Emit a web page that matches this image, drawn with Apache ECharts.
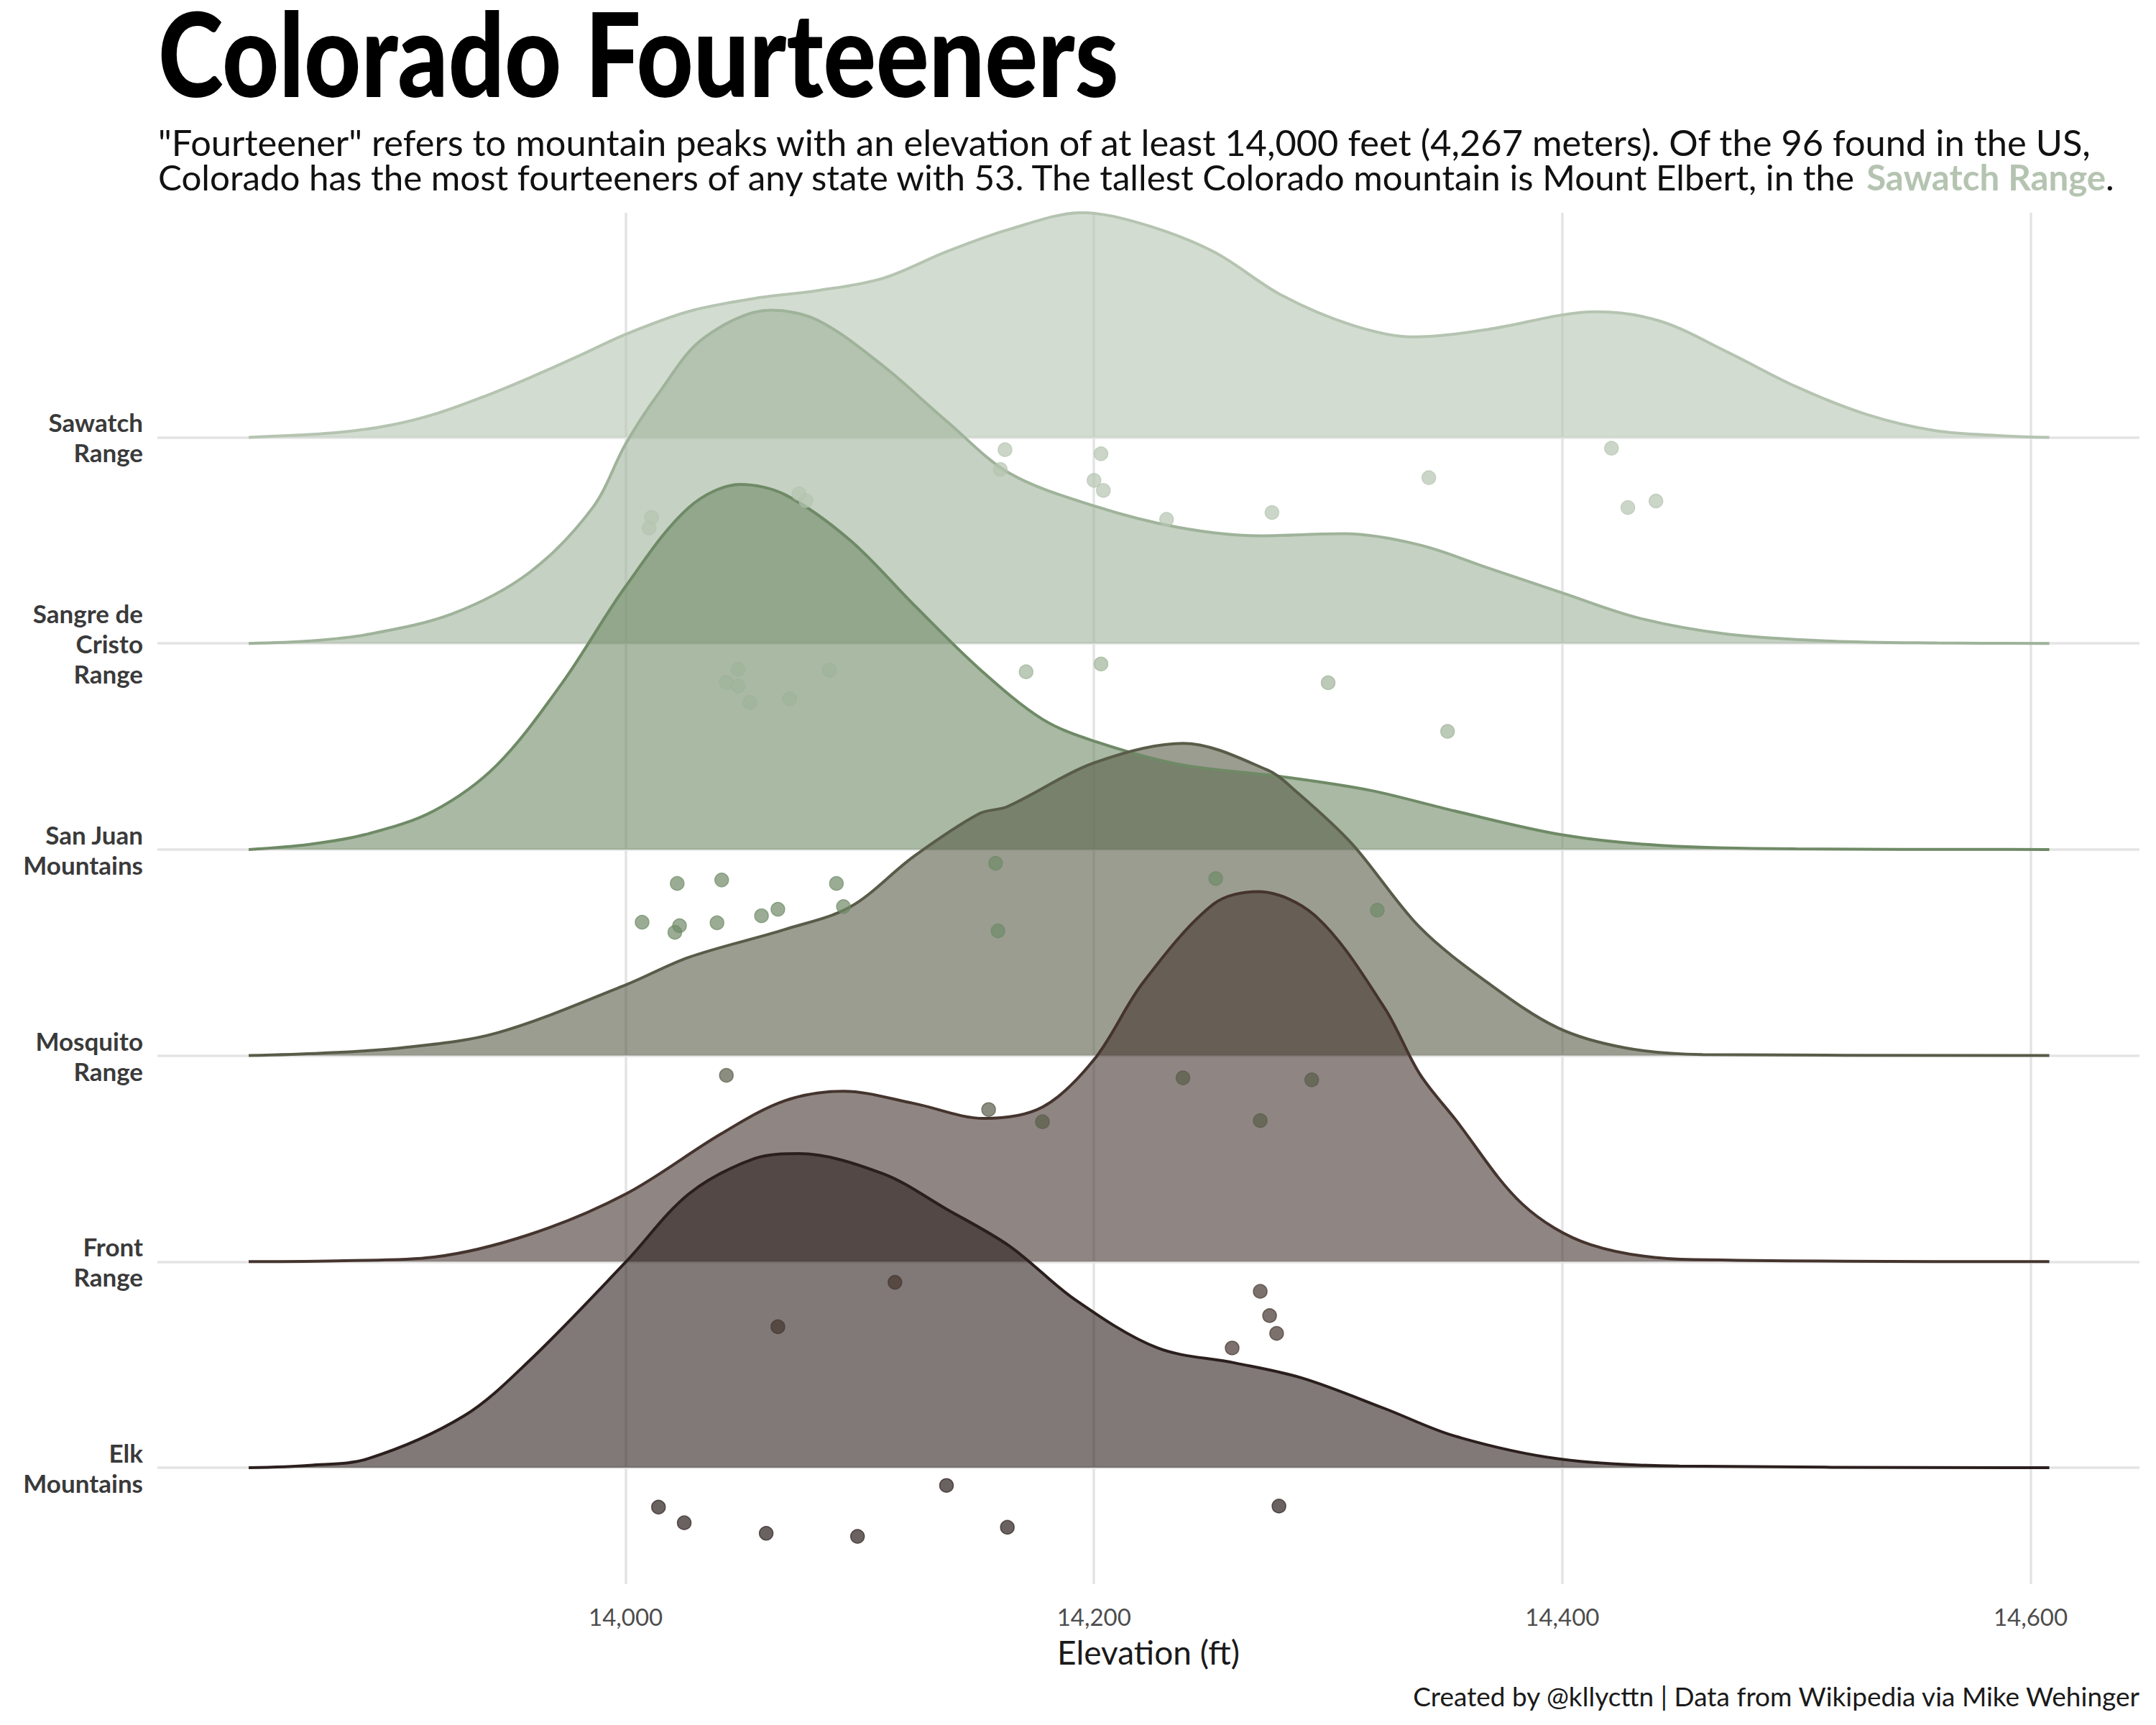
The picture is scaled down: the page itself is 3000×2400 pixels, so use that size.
<!DOCTYPE html>
<html>
<head>
<meta charset="utf-8">
<script src="https://cdn.jsdelivr.net/npm/echarts@6/dist/echarts.min.js"></script>
<style>
html,body{margin:0;padding:0;background:#ffffff;}
#c{width:3000px;height:2400px;}
</style>
</head>
<body>
<div id="c"></div>
<script>
// ---------------- DATA ----------------
const rangeNames = ['Sawatch Range', 'Sangre de Cristo Range', 'San Juan Mountains', 'Mosquito Range', 'Front Range', 'Elk Mountains'];
const rangeLabels = ['Sawatch\nRange', 'Sangre de\nCristo\nRange', 'San Juan\nMountains', 'Mosquito\nRange', 'Front\nRange', 'Elk\nMountains'];
const xTickValues = [14000, 14200, 14400, 14600];

// density ridges: elevation (ft) and ridge height (in row units)
const sawatchDensX = [13839,13876,13900,13920,13940,13959,13980,14000,14027,14055,14082,14110,14137,14164,14195,14221,14251,14280,14310,14336,14368,14400,14415,14442,14471,14500,14530,14559,14589,14608];
const sawatchDensY = [0,0.022,0.06,0.118,0.2,0.289,0.395,0.5,0.611,0.674,0.712,0.772,0.901,1.01,1.09,1.034,0.901,0.69,0.545,0.487,0.523,0.594,0.609,0.563,0.411,0.245,0.111,0.033,0.007,0];

const sangreDensX = [13839,13865,13890,13926,13959,13986,14000,14014,14033,14062,14082,14110,14137,14164,14200,14236,14271,14307,14339,14368,14400,14433,14471,14515,14560,14608];
const sangreDensY = [0,0.012,0.044,0.144,0.345,0.66,0.968,1.212,1.479,1.617,1.568,1.346,1.079,0.825,0.667,0.563,0.522,0.532,0.478,0.367,0.245,0.122,0.044,0.011,0.002,0];

const sanJuanDensX = [13839,13865,13890,13918,13945,13973,14000,14027,14049,14068,14096,14123,14151,14178,14200,14236,14280,14318,14354,14400,14442,14500,14608];
const sanJuanDensY = [0,0.025,0.076,0.187,0.41,0.81,1.277,1.66,1.771,1.722,1.499,1.188,0.877,0.632,0.526,0.414,0.354,0.287,0.187,0.071,0.02,0.003,0];

const mosquitoDensX = [13839,13870,13904,13945,14000,14027,14068,14096,14123,14151,14163,14200,14238,14274,14286,14310,14339,14368,14398,14427,14460,14608];
const mosquitoDensY = [0,0.012,0.037,0.110,0.343,0.477,0.612,0.722,0.966,1.174,1.208,1.42,1.515,1.386,1.285,1.03,0.624,0.355,0.135,0.037,0.005,0];

const frontDensX = [13839,13880,13918,13959,14000,14041,14068,14093,14123,14153,14178,14200,14221,14251,14270,14295,14324,14339,14354,14383,14412,14456,14608];
const frontDensY = [0,0.005,0.022,0.132,0.328,0.622,0.781,0.827,0.768,0.695,0.75,0.98,1.355,1.735,1.796,1.673,1.233,0.913,0.695,0.279,0.083,0.01,0];

const elkDensX = [13839,13865,13890,13931,13959,14000,14027,14055,14074,14110,14137,14164,14192,14227,14260,14289,14324,14354,14398,14450,14608];
const elkDensY = [0,0.012,0.044,0.252,0.521,0.998,1.329,1.5,1.524,1.426,1.255,1.075,0.815,0.582,0.509,0.435,0.288,0.154,0.044,0.008,0];

// individual peaks (ft) and their vertical jitter below the ridge baseline (row units)
const sawatchPeaks  = [14010,14011,14074,14077,14160,14162,14200,14203,14204,14231,14276,14343,14421,14428,14440];
const sawatchJitter = [-0.44,-0.389,-0.274,-0.307,-0.156,-0.06,-0.209,-0.08,-0.258,-0.398,-0.365,-0.196,-0.053,-0.341,-0.309];

const sangrePeaks  = [14043,14048,14048,14053,14070,14087,14171,14203,14300,14351];
const sangreJitter = [-0.189,-0.127,-0.207,-0.287,-0.269,-0.131,-0.138,-0.1,-0.191,-0.427];

const sanJuanPeaks  = [14007,14021,14022,14023,14039,14041,14058,14065,14090,14093,14158,14159,14252,14321];
const sanJuanJitter = [-0.353,-0.402,-0.165,-0.37,-0.356,-0.148,-0.322,-0.29,-0.165,-0.277,-0.067,-0.395,-0.141,-0.295];

const mosquitoPeaks  = [14043,14155,14178,14238,14271,14293];
const mosquitoJitter = [-0.096,-0.262,-0.321,-0.108,-0.316,-0.118];

const frontPeaks  = [14065,14115,14259,14271,14275,14278];
const frontJitter = [-0.316,-0.1,-0.419,-0.144,-0.262,-0.348];

const elkPeaks  = [14014,14025,14060,14099,14137,14163,14279];
const elkJitter = [-0.191,-0.267,-0.318,-0.333,-0.086,-0.289,-0.186];

// ---------------- TEXT ----------------
const titleText = 'Colorado Fourteeners';
const subLine1 = '"Fourteener" refers to mountain peaks with an elevation of at least 14,000 feet (4,267 meters). Of the 96 found in the US,';
const subLine2a = 'Colorado has the most fourteeners of any state with 53. The tallest Colorado mountain is Mount Elbert, in the ';
const subLine2b = 'Sawatch Range';
const subLine2c = '.';
const captionText = 'Created by @kllycttn | Data from Wikipedia via Mike Wehinger';

// ---------------- STYLE ----------------
const rangeColors = ['#b5c4b1', '#9fb39a', '#6f8a66', '#585c48', '#45342e', '#2b1f1d'];
const densX = [sawatchDensX, sangreDensX, sanJuanDensX, mosquitoDensX, frontDensX, elkDensX];
const densY = [sawatchDensY, sangreDensY, sanJuanDensY, mosquitoDensY, frontDensY, elkDensY];
const peaks = [sawatchPeaks, sangrePeaks, sanJuanPeaks, mosquitoPeaks, frontPeaks, elkPeaks];
const jitter = [sawatchJitter, sangreJitter, sanJuanJitter, mosquitoJitter, frontJitter, elkJitter];

const GRID = {left: 219, right: 23, top: 296, bottom: 196};
const gridColor = '#e4e4e4';

// text fitting helpers (measure installed fonts to reproduce the reference text widths)
const mctx = document.createElement('canvas').getContext('2d');
function measure(parts, size) {
  let w = 0;
  parts.forEach(p => { mctx.font = p[1] + ' ' + size + 'px Lato'; w += mctx.measureText(p[0]).width; });
  return w;
}
const titleFont = '900 158px Lato';
mctx.font = titleFont;
const titleScaleX = 1337 / (mctx.measureText(titleText).width || 1700);
const sub1Size = Math.min(54, Math.max(44, 47 * 2694 / (measure([[subLine1, 'normal']], 47) || 2500)));
const sub2Size = Math.min(54, Math.max(44, 47 * 2722 / (measure([[subLine2a, 'normal'], [subLine2b, 'bold'], [subLine2c, 'normal']], 47) || 2550)));

const series = [];
// baseline grid lines
series.push({
  type: 'line', data: [], silent: true, z: 1,
  markLine: {
    silent: true, symbol: 'none', z: 1, animation: false,
    label: {show: false},
    lineStyle: {color: gridColor, width: 3.5, type: 'solid'},
    emphasis: {disabled: true},
    data: rangeNames.map((n, i) => ({yAxis: rangeNames.length - 1 - i}))
  }
});

rangeNames.forEach((name, i) => {
  const base = rangeNames.length - 1 - i;
  const col = rangeColors[i];
  series.push({
    name: name,
    type: 'line',
    data: densX[i].map((x, j) => [x, base + densY[i][j]]),
    smooth: 0.33,
    symbol: 'none',
    z: 2,
    lineStyle: {color: col, width: 4},
    areaStyle: {color: col, opacity: 0.6, origin: base},
    emphasis: {disabled: true},
    animation: false
  });
  series.push({
    name: name + ' peaks',
    type: 'scatter',
    data: peaks[i].map((x, j) => [x, base + jitter[i][j]]),
    symbolSize: 19,
    z: 2,
    itemStyle: {color: col, opacity: 0.7, borderColor: col, borderWidth: 1.5},
    emphasis: {disabled: true},
    animation: false
  });
});

const chart = echarts.init(document.getElementById('c'), null, {renderer: 'svg', width: 3000, height: 2400});
chart.setOption({
  backgroundColor: '#ffffff',
  animation: false,
  grid: GRID,
  xAxis: {
    type: 'value', min: 13800, max: 14646.5, interval: 200,
    axisLine: {show: false}, axisTick: {show: false},
    splitLine: {show: true, showMinLine: false, showMaxLine: false, lineStyle: {color: gridColor, width: 3.5}},
    axisLabel: {
      customValues: xTickValues,
      formatter: v => String(v).replace(/\B(?=(\d{3})+(?!\d))/g, ','),
      fontFamily: 'Lato', fontSize: 33, color: '#4d4d4d', margin: 28
    },
    name: 'Elevation (ft)', nameLocation: 'middle', nameGap: 71,
    nameTextStyle: {fontFamily: 'Lato', fontSize: 46, color: '#1a1a1a'}
  },
  yAxis: {
    type: 'value', min: -0.5647, max: 6.0896,
    axisLine: {show: false}, axisTick: {show: false}, splitLine: {show: false},
    axisLabel: {
      customValues: [0, 1, 2, 3, 4, 5],
      formatter: v => rangeLabels[rangeNames.length - 1 - Math.round(v)],
      fontFamily: 'Lato', fontWeight: 'bold', fontSize: 35, lineHeight: 42,
      color: '#3a3a3a', align: 'right', margin: 20
    }
  },
  graphic: [
    {type: 'text', x: 220, y: 72, scaleX: titleScaleX, scaleY: 1.03, silent: true,
     style: {text: titleText, font: titleFont, fill: '#000000',
             textVerticalAlign: 'middle', verticalAlign: 'middle'}},
    {type: 'text', x: 220, y: 197, silent: true,
     style: {text: subLine1, font: sub1Size.toFixed(1) + 'px Lato', fill: '#111111',
             textVerticalAlign: 'middle', verticalAlign: 'middle'}},
    {type: 'text', x: 220, y: 245, silent: true,
     style: {text: '{a|' + subLine2a + '}{b|' + subLine2b + '}{a|' + subLine2c + '}',
             textVerticalAlign: 'middle', verticalAlign: 'middle',
             rich: {a: {fontFamily: 'Lato', fontSize: sub2Size, fill: '#111111', color: '#111111'},
                    b: {fontFamily: 'Lato', fontSize: sub2Size, fontWeight: 'bold', fill: '#b5c4b1', color: '#b5c4b1'}}}},
    {type: 'text', x: 2977, y: 2359, silent: true,
     style: {text: captionText, font: '37px Lato', fill: '#1a1a1a',
             textAlign: 'right', align: 'right', textVerticalAlign: 'middle', verticalAlign: 'middle'}}
  ],
  series: series
});
</script>
</body>
</html>
